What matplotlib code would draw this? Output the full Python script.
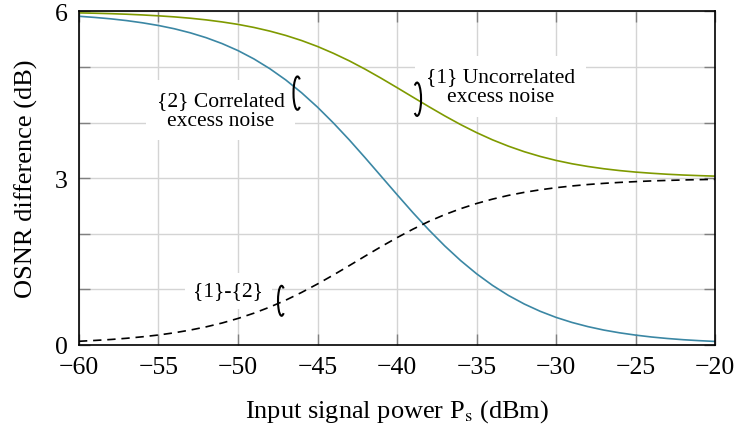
import matplotlib
matplotlib.use('Agg')
import matplotlib.pyplot as plt
from matplotlib.patches import Arc

# input signal power (dBm)
p_in = list(range(-60, -19))

# {1} uncorrelated excess noise, OSNR difference (dB)
uncorr = [5.975, 5.969, 5.961, 5.951, 5.938, 5.922, 5.903, 5.879, 5.849, 5.812,
          5.768, 5.713, 5.647, 5.569, 5.477, 5.370, 5.247, 5.111, 4.960, 4.798,
          4.629, 4.457, 4.286, 4.120, 3.963, 3.819, 3.689, 3.575, 3.475, 3.390,
          3.318, 3.258, 3.209, 3.168, 3.135, 3.108, 3.087, 3.069, 3.055, 3.044,
          3.035]

# {2} correlated excess noise
corr = [5.914, 5.893, 5.868, 5.836, 5.796, 5.748, 5.689, 5.616, 5.528, 5.422,
        5.296, 5.146, 4.970, 4.768, 4.536, 4.277, 3.992, 3.687, 3.364, 3.033,
        2.702, 2.377, 2.067, 1.778, 1.514, 1.277, 1.068, 0.887, 0.732, 0.601,
        0.491, 0.400, 0.325, 0.263, 0.213, 0.172, 0.138, 0.111, 0.089, 0.072,
        0.058]

# {1}-{2}
diff = [0.061, 0.076, 0.093, 0.115, 0.142, 0.174, 0.214, 0.263, 0.321, 0.390,
        0.472, 0.567, 0.677, 0.801, 0.941, 1.093, 1.255, 1.424, 1.596, 1.765,
        1.927, 2.080, 2.219, 2.342, 2.449, 2.542, 2.621, 2.688, 2.743, 2.789,
        2.827, 2.858, 2.884, 2.905, 2.922, 2.936, 2.949, 2.958, 2.966, 2.972,
        2.977]

x_ticks = [-60, -55, -50, -45, -40, -35, -30, -25, -20]
y_grid = [0, 1, 2, 3, 4, 5, 6]
y_labels = ['0', '', '', '3', '', '', '6']

plt.rcParams['font.family'] = ['Liberation Serif', 'DejaVu Serif']
plt.rcParams['mathtext.fontset'] = 'stix'

fig = plt.figure(figsize=(7.38, 4.31), dpi=100)
ax = fig.add_axes([0.107, 0.198, 0.862, 0.773])

ax.plot(p_in, uncorr, color='#7f9a00', lw=1.2, zorder=2)
ax.plot(p_in, corr, color='#3b87a4', lw=1.2, zorder=2)
ax.plot(p_in, diff, color='black', lw=1.2, linestyle=(0, (5, 3.5)), zorder=2)

ax.set_xlim(-60, -20)
ax.set_ylim(0, 6)
ax.set_xticks(x_ticks)
ax.set_yticks(y_grid)
ax.set_yticklabels(y_labels)
ax.set_axisbelow(True)
ax.grid(True, color='#d4d4d4', lw=1.0)
ax.tick_params(direction='in', length=8, width=1, color='#808080',
               top=True, right=True, labelsize=18.5)
ax.tick_params(axis='x', pad=8)
ax.tick_params(axis='y', pad=8)
for s in ax.spines.values():
    s.set_linewidth(1.2)

ax.set_xlabel('Input signal power P$_\\mathrm{s}$ (dBm)', fontsize=19, labelpad=14)
ax.set_ylabel('OSNR difference (dB)', fontsize=19, labelpad=12)

box = dict(boxstyle='square,pad=0.5', fc='white', ec='none')
ax.text(-51.1, 4.22, '{2} Correlated\nexcess noise', fontsize=15.5, ha='center',
        va='center', multialignment='center', linespacing=1.05, bbox=box, zorder=1.5)
ax.text(-33.5, 4.65, '{1} Uncorrelated\nexcess noise', fontsize=15.5, ha='center',
        va='center', multialignment='center', linespacing=1.05, bbox=box, zorder=1.5)
ax.text(-50.6, 0.97, '{1}-{2}', fontsize=15.5, ha='center', va='center',
        bbox=dict(boxstyle='square,pad=0.4', fc='white', ec='none'), zorder=1.5)

# little ellipse brackets marking the curves
ax.add_patch(Arc((-46.26, 4.53), 0.5, 0.6, theta1=60, theta2=300, lw=1.5, color='black', zorder=3))
ax.add_patch(Arc((-38.74, 4.42), 0.5, 0.6, theta1=-120, theta2=120, lw=1.5, color='black', zorder=3))
ax.add_patch(Arc((-47.26, 0.79), 0.45, 0.54, theta1=60, theta2=300, lw=1.5, color='black', zorder=3))

fig.savefig('out.png', dpi=100)
